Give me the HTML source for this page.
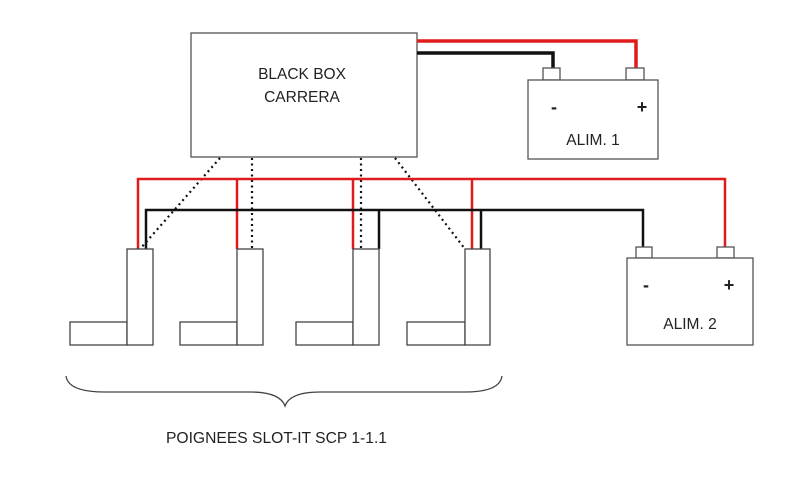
<!DOCTYPE html>
<html><head><meta charset="utf-8"><style>
html,body{margin:0;padding:0;background:#fff;}
svg{display:block;}
text{font-family:"Liberation Sans",sans-serif;fill:#222;}
</style></head><body>
<svg width="800" height="488" viewBox="0 0 800 488" xmlns="http://www.w3.org/2000/svg">
<rect x="0" y="0" width="800" height="488" fill="#fff"/>
<rect x="191" y="33" width="226" height="124" fill="#fff" stroke="#555" stroke-width="1.3"/>
<text x="302" y="79" font-size="15.5" text-anchor="middle">BLACK BOX</text>
<text x="302" y="102" font-size="15.5" text-anchor="middle">CARRERA</text>
<polyline points="417,41 636,41 636,68" fill="none" stroke="#e01b1b" stroke-width="3.5"/>
<polyline points="417,53 553,53 553,68" fill="none" stroke="#111" stroke-width="3.5"/>
<rect x="543" y="68" width="17" height="12" fill="#fff" stroke="#555" stroke-width="1.3"/>
<rect x="626" y="68" width="18" height="12" fill="#fff" stroke="#555" stroke-width="1.3"/>
<rect x="528" y="80" width="130" height="79" fill="#fff" stroke="#555" stroke-width="1.3"/>
<text x="554" y="113" font-size="18" font-weight="bold" text-anchor="middle">-</text>
<text x="642" y="113" font-size="18" font-weight="bold" text-anchor="middle">+</text>
<text x="593" y="145" font-size="15.5" text-anchor="middle">ALIM. 1</text>
<g stroke="#111" stroke-width="2.2" stroke-dasharray="2,3.5" fill="none">
<line x1="220" y1="158" x2="140" y2="249"/>
<line x1="252" y1="158" x2="252" y2="249"/>
<line x1="361" y1="158" x2="361" y2="249"/>
<line x1="395" y1="158" x2="465" y2="249"/>
</g>
<polyline points="138,249 138,179 725,179 725,248" fill="none" stroke="#e01b1b" stroke-width="2.5"/>
<line x1="237" y1="179" x2="237" y2="249" stroke="#e01b1b" stroke-width="2.5"/>
<line x1="353" y1="179" x2="353" y2="249" stroke="#e01b1b" stroke-width="2.5"/>
<line x1="472" y1="179" x2="472" y2="249" stroke="#e01b1b" stroke-width="2.5"/>
<polyline points="146,249 146,210 643,210 643,248" fill="none" stroke="#111" stroke-width="2.5"/>
<line x1="379" y1="210" x2="379" y2="249" stroke="#111" stroke-width="2.5"/>
<line x1="481" y1="210" x2="481" y2="249" stroke="#111" stroke-width="2.5"/>
<g fill="#fff" stroke="#444" stroke-width="1.3">
<rect x="70" y="322" width="57" height="23"/><rect x="127" y="249" width="26" height="96"/>
<rect x="180" y="322" width="57" height="23"/><rect x="237" y="249" width="26" height="96"/>
<rect x="296" y="322" width="57" height="23"/><rect x="353" y="249" width="26" height="96"/>
<rect x="407" y="322" width="58" height="23"/><rect x="465" y="249" width="25" height="96"/>
</g>
<rect x="636" y="247" width="16" height="11" fill="#fff" stroke="#555" stroke-width="1.3"/>
<rect x="717" y="247" width="17" height="11" fill="#fff" stroke="#555" stroke-width="1.3"/>
<rect x="627" y="258" width="126" height="87" fill="#fff" stroke="#555" stroke-width="1.3"/>
<text x="646" y="291" font-size="18" font-weight="bold" text-anchor="middle">-</text>
<text x="729" y="291" font-size="18" font-weight="bold" text-anchor="middle">+</text>
<text x="690" y="329" font-size="15.5" text-anchor="middle">ALIM. 2</text>
<path d="M66,376 Q68,392 105,392 L250,392 Q280,392 285,406 Q290,392 320,392 L465,392 Q500,392 502,376" fill="none" stroke="#444" stroke-width="1.3"/>
<text x="166" y="443" font-size="15.5" textLength="221" lengthAdjust="spacingAndGlyphs">POIGNEES SLOT-IT  SCP 1-1.1</text>
</svg>
</body></html>
